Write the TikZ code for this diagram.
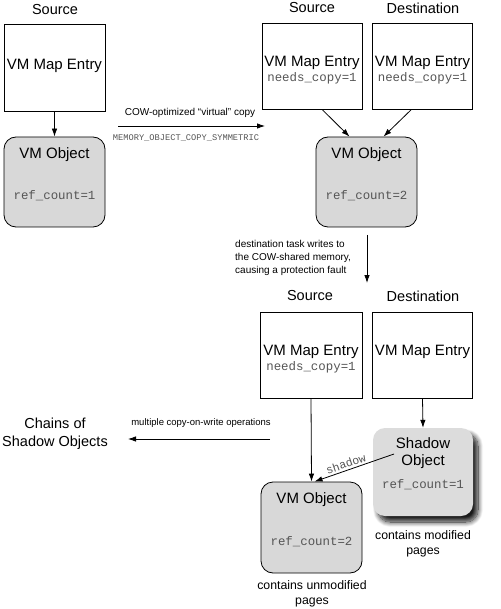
\documentclass[tikz,border=0pt]{standalone}
\usepackage{fontspec}
\setmainfont{Liberation Sans}
\setmonofont{Liberation Mono}
\usetikzlibrary{arrows.meta,shadows.blur,calc}
\definecolor{objgray}{HTML}{D8D8D8}
\definecolor{shgray}{HTML}{DCDCDC}
\definecolor{monogray}{HTML}{555555}
\tikzset{
  entry/.style={draw, line width=0.8pt, minimum width=100pt, minimum height=86pt, inner sep=0pt},
  obj/.style={draw, line width=0.8pt, rounded corners=12pt, fill=objgray, minimum width=101pt, minimum height=90pt, inner sep=0pt},
  shobj/.style={rounded corners=12pt, fill=shgray, minimum width=100pt, minimum height=88pt, inner sep=0pt,
    blur shadow={shadow xshift=5pt, shadow yshift=-6pt, shadow blur radius=5pt, shadow blur steps=12, shadow opacity=90}},
  big/.style={font=\fontsize{15}{17}\selectfont, inner sep=0pt},
  head/.style={font=\fontsize{14.5}{18}\selectfont, inner sep=0pt, align=center},
  mono/.style={font=\ttfamily\fontsize{12.4}{14}\selectfont, text=monogray, inner sep=0pt},
  tinymono/.style={font=\ttfamily\fontsize{8.7}{10}\selectfont, text=monogray, inner sep=0pt},
  small/.style={font=\fontsize{10}{13}\selectfont, inner sep=0pt},
  note/.style={font=\fontsize{12.3}{14.5}\selectfont, inner sep=0pt, align=center},
  arr/.style={-{Latex[length=8pt,width=5.5pt]}, line width=0.8pt},
}
\begin{document}
\begin{tikzpicture}[x=1pt,y=-1pt]
\useasboundingbox (0,0) rectangle (500,609);
% ---- top left
\node[head] (src1) at (55,10) {Source};
\node[entry, minimum width=101pt, minimum height=87pt] (e1) at (54.5,67.5) {};
\node[big] (e1t) at (54.5,66) {VM Map Entry};
\node[obj] (o1) at (54.5,182) {};
\node[big] (o1t) at (54.5,155) {VM Object};
\node[mono] (o1r) at (54.5,196) {ref\_count=1};
\draw[arr] (e1.south) -- (o1.north);
% ---- horizontal copy arrow
\coordinate (c1) at (118,126);
\coordinate (c2) at (265,126);
\draw[arr] (c1) -- (c2);
\node[small] (cl1) at (190,113) {COW-optimized “virtual” copy};
\node[tinymono] (cl2) at (186,138) {MEMORY\_OBJECT\_COPY\_SYMMETRIC};
% ---- top right
\node[head] (src2) at (312,8) {Source};
\node[head] (dst2) at (423,8) {Destination};
\node[entry] (e2) at (312,66) {};
\node[big] (e2t) at (312,63) {VM Map Entry};
\node[mono] (e2n) at (312,78) {needs\_copy=1};
\node[entry] (e3) at (422.5,66) {};
\node[big] (e3t) at (422.5,63) {VM Map Entry};
\node[mono] (e3n) at (422.5,78) {needs\_copy=1};
\node[obj] (o2) at (366.5,182) {};
\node[big] (o2t) at (366.5,155) {VM Object};
\node[mono] (o2r) at (366.5,196) {ref\_count=2};
\draw[arr] ($(e2.south)+(10,0)$) -- ($(o2.north)+(-17,0)$);
\draw[arr] ($(e3.south)+(-11,0)$) -- ($(o2.north)+(17,0)$);
% ---- vertical arrow
\coordinate (v1) at (367,235);
\coordinate (v2) at (367,283);
\draw[arr] (v1) -- (v2);
\node[small, anchor=west, align=left] (vl) at (235,258) {destination task writes to\\the COW-shared memory,\\causing a protection fault};
% ---- bottom
\node[head] (src3) at (310,296) {Source};
\node[head] (dst3) at (423,296) {Destination};
\node[entry, minimum width=102pt] (e4) at (311,355) {};
\node[big] (e4t) at (311,352) {VM Map Entry};
\node[mono] (e4n) at (311,367) {needs\_copy=1};
\node[entry] (e5) at (422.5,355) {};
\node[big] (e5t) at (422.5,352) {VM Map Entry};
\node[shobj] (s1) at (423,472) {};
\node[big] (s1a) at (423,443) {Shadow};
\node[big] (s1b) at (423,462) {Object};
\node[mono] (s1r) at (423,485) {ref\_count=1};
\node[obj, minimum height=91pt] (o3) at (311.5,527.5) {};
\node[big] (o3t) at (311.5,500) {VM Object};
\node[mono] (o3r) at (311.5,542) {ref\_count=2};
\draw[arr] (e4.south) -- (o3.north);
\draw[arr] (e5.south) -- (s1.north);
\draw[arr] ($(s1.center)+(-29,-18)$) -- node[sloped, above=2pt, pos=0.58, font=\ttfamily\fontsize{11.5}{13}\selectfont, text=monogray, inner sep=0pt] (shl) {shadow} ($(o3.north)+(3,0)$);
\node[note] (n1) at (423,544) {contains modified\\pages};
\node[note] (n2) at (312,594) {contains unmodified\\pages};
% ---- chains
\node[head] (ch) at (55,434) {Chains of\\Shadow Objects};
\coordinate (m1) at (270,439);
\coordinate (m2) at (128,439);
\draw[arr] (m1) -- (m2);
\node[font=\fontsize{9.5}{11}\selectfont, inner sep=0pt] (ml) at (201,423) {multiple copy-on-write operations};
\end{tikzpicture}
\end{document}
